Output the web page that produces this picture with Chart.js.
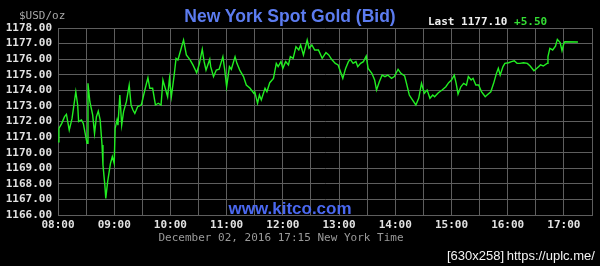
<!DOCTYPE html>
<html>
<head>
<meta charset="utf-8">
<script src="https://cdn.jsdelivr.net/npm/chart.js@4/dist/chart.umd.min.js"></script>
<style>
  html, body { margin: 0; padding: 0; background: #000; }
  #wrap { position: relative; width: 600px; height: 266px; overflow: hidden; background: #000; }
  canvas { position: absolute; left: 0; top: 0; }
  .t { position: absolute; white-space: nowrap; line-height: 1; transform: translateY(-50%); }
  .mono { font-family: "DejaVu Sans Mono", monospace; font-size: 11px; }
</style>
</head>
<body>
<div id="wrap">
  <canvas id="c" width="600" height="266"></canvas>
  <div class="t mono" style="left:19px; top:15px; color:#a8a8a8;">$USD/oz</div>
  <div class="t" id="title" style="left:290px; top:17px; transform:translate(-50%,-50%); font-family:'Liberation Sans',Arial,sans-serif; font-weight:bold; font-size:17.5px; color:#5c7cf0;">New York Spot Gold (Bid)</div>
  <div class="t mono" style="left:428px; top:21px; color:#f0f0f0; font-weight:bold;">Last 1177.10 <span style="color:#33dd33;">+5.50</span></div>
  <div class="t" style="left:290px; top:208px; transform:translate(-50%,-50%); font-family:'Liberation Sans',Arial,sans-serif; font-weight:bold; font-size:17px; color:#4a68f0;">www.kitco.com</div>
  <div class="t mono" style="left:281px; top:237px; transform:translate(-50%,-50%); color:#9a9a9a;">December 02, 2016 17:15 New York Time</div>
  <div class="t" style="left:447px; top:255px; font-family:'Liberation Sans',sans-serif; font-size:13px; color:#f4f4f4;">[630x258]&#8201;https://uplc.me/</div>
</div>
<script>
// minutes since 08:00 New York time
const minutes = [0,1,4,7,9,12,15,19,21,22,25,27,31,32,34,37,39,41,43,45,47,48,50,51,53,56,58,60,61,63,64,66,68,70,73,76,78,80,82,85,89,91,94,96,98,101,104,107,110,112,115,117,119,121,124,126,128,131,134,136,137,141,144,148,151,154,156,158,162,163,166,169,172,176,178,180,183,185,189,191,194,198,201,205,209,210,213,215,217,221,223,226,230,233,235,238,240,243,246,248,251,254,257,259,262,266,268,271,274,278,282,286,289,292,296,299,304,307,310,312,315,318,320,323,326,329,331,335,338,340,343,346,349,352,356,359,363,366,370,372,375,378,382,385,388,391,394,397,400,402,406,410,414,417,420,423,425,427,430,433,436,438,441,443,446,449,452,456,458,462,465,468,470,472,475,477,481,484,487,490,493,497,501,504,508,510,513,515,518,522,523,525,528,531,533,536,538,540,541,555];
const bid = [1170.70,1171.56,1171.88,1172.31,1172.46,1171.45,1172.20,1173.91,1173.06,1171.99,1172.10,1171.88,1170.60,1174.45,1173.27,1172.42,1171.24,1172.31,1172.67,1172.10,1170.49,1169.21,1167.92,1167.07,1168.14,1169.31,1169.74,1169.31,1171.56,1172.10,1171.77,1173.70,1171.77,1172.63,1173.27,1174.34,1173.06,1172.74,1172.52,1172.95,1173.06,1173.59,1174.34,1174.81,1174.13,1174.13,1173.06,1173.17,1173.06,1174.66,1174.02,1173.59,1174.77,1173.59,1174.98,1176.05,1175.95,1176.59,1177.23,1176.59,1176.27,1175.95,1175.63,1175.13,1175.73,1176.63,1175.84,1175.30,1175.99,1175.52,1174.88,1175.30,1175.35,1176.16,1175.30,1174.23,1175.52,1175.35,1176.16,1175.73,1175.30,1174.88,1174.34,1174.13,1173.81,1173.91,1173.17,1173.70,1173.38,1174.13,1173.91,1174.49,1174.77,1175.73,1175.52,1175.84,1175.41,1175.84,1175.63,1176.16,1176.05,1176.80,1176.59,1176.91,1176.27,1177.23,1176.70,1176.91,1176.59,1176.59,1176.05,1176.42,1176.27,1175.99,1175.73,1175.63,1174.77,1175.41,1175.84,1175.99,1175.73,1175.84,1175.52,1175.73,1175.84,1176.20,1175.41,1175.09,1174.66,1174.02,1174.55,1174.98,1174.88,1174.98,1174.77,1174.88,1175.35,1175.09,1174.92,1174.45,1173.70,1173.42,1173.06,1173.49,1174.45,1173.81,1174.02,1173.49,1173.70,1173.59,1173.85,1174.02,1174.23,1174.49,1174.66,1174.98,1174.45,1173.76,1174.23,1174.45,1174.34,1174.88,1174.66,1174.77,1174.34,1174.34,1173.91,1173.59,1173.70,1173.91,1174.45,1175.09,1175.41,1174.98,1175.52,1175.73,1175.77,1175.84,1175.90,1175.73,1175.73,1175.77,1175.73,1175.56,1175.26,1175.35,1175.52,1175.63,1175.56,1175.73,1176.16,1176.70,1176.59,1176.84,1177.27,1177.06,1176.54,1177.02,1177.12,1177.10];
const xTickLabels = ["08:00","09:00","10:00","11:00","12:00","13:00","14:00","15:00","16:00","17:00"];
const yMin = 1166, yMax = 1178;
const xMax = 570; // 17:30

const points = minutes.map((m, i) => ({ x: m, y: bid[i] }));
const gridColor = '#5e5e5e';
const tickFont = { family: 'DejaVu Sans Mono', size: 11, weight: 'bold' };

new Chart(document.getElementById('c'), {
  type: 'line',
  data: { datasets: [{ data: points, borderColor: '#22ee22', borderWidth: 1.4, pointRadius: 0, tension: 0, fill: false }] },
  options: {
    responsive: false, animation: false, devicePixelRatio: 1,
    layout: { padding: { left: 0, right: 8, top: 28, bottom: 0 } },
    plugins: { legend: { display: false }, tooltip: { enabled: false }, title: { display: false } },
    scales: {
      x: {
        type: 'linear', min: 0, max: xMax,
        afterFit: s => { s.height = 51; },
        afterBuildTicks: s => { const t = []; for (let v = 0; v <= xMax; v += 30) t.push({ value: v }); s.ticks = t; },
        grid: { color: gridColor, lineWidth: 1, drawTicks: false },
        border: { color: gridColor },
        ticks: { color: '#e2e2e2', font: tickFont, padding: 4, maxRotation: 0, autoSkip: false,
          callback: v => (v % 60 === 0 ? xTickLabels[v / 60] : '') }
      },
      y: {
        min: yMin, max: yMax,
        afterFit: s => { s.width = 58; },
        grid: { color: gridColor, lineWidth: 1, drawTicks: false },
        border: { color: gridColor },
        ticks: { stepSize: 1, autoSkip: false, color: '#e2e2e2', font: tickFont, padding: 6, callback: v => v.toFixed(2) }
      }
    }
  }
});
</script>
</body>
</html>
